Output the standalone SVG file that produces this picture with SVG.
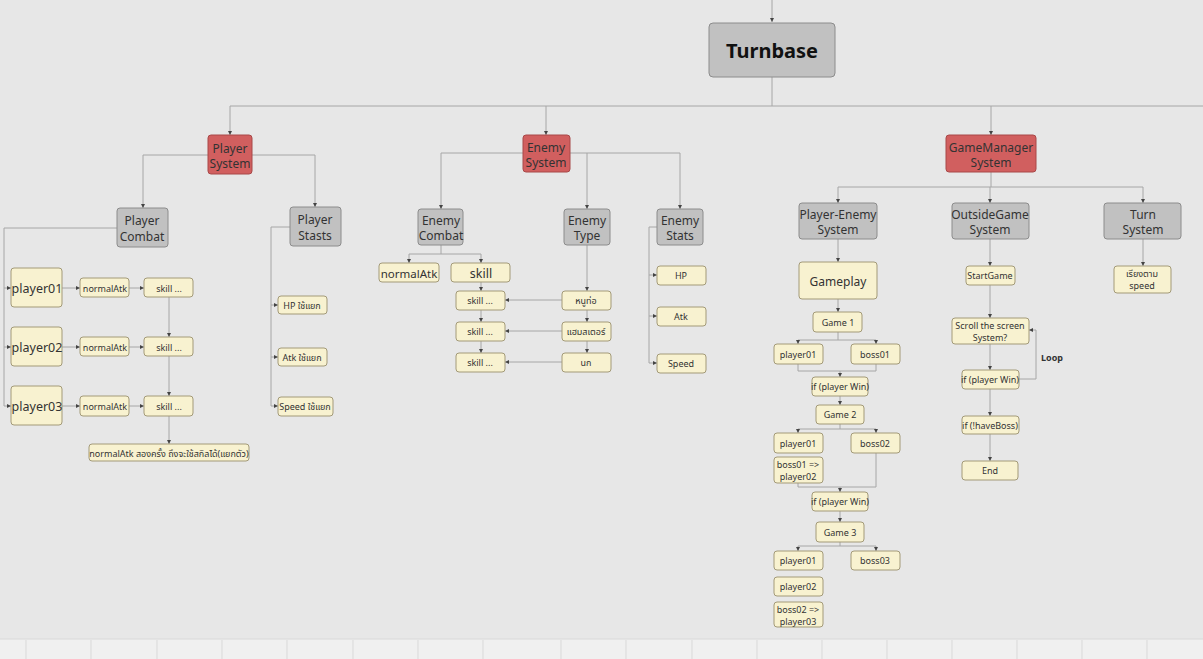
<svg xmlns="http://www.w3.org/2000/svg" width="1203" height="659" viewBox="0 0 1203 659">
<defs>
<style>
.bg{fill:#e7e7e7}
.y{fill:#f8f2d0;stroke:#a39a78;stroke-width:1}
.g{fill:#c1c1c1;stroke:#8c8c8c;stroke-width:1}
.r{fill:#d15f5f;stroke:#a84848;stroke-width:1}
.t{font-family:"Noto Sans","Open Sans","Noto Sans Thai",sans-serif;fill:#333;text-anchor:middle;dominant-baseline:central}
.s9{font-size:9px}
.s12{font-size:12px}
.s13{font-size:12.5px}
.c{fill:none;stroke:#a6a6a6;stroke-width:1}
.a{marker-end:url(#ah)}
.grid{stroke:#d9d9d9;stroke-width:1}
</style>
<marker id="ah" viewBox="0 0 6 6" refX="6" refY="3" markerWidth="4" markerHeight="4" orient="auto" markerUnits="userSpaceOnUse">
<path d="M0,0 L6,3 L0,6 z" fill="#444"/>
</marker>
</defs>
<rect class="bg" x="0" y="0" width="1203" height="659"/>
<g id="bottom-strip">
<rect x="0" y="639" width="1203" height="20" fill="#f0f0f0"/>
<line x1="0" y1="639" x2="1203" y2="639" stroke="#d8d8d8"/>
<line class="grid" x1="26" y1="640" x2="26" y2="659"/>
<line class="grid" x1="91" y1="640" x2="91" y2="659"/>
<line class="grid" x1="157" y1="640" x2="157" y2="659"/>
<line class="grid" x1="222" y1="640" x2="222" y2="659"/>
<line class="grid" x1="287" y1="640" x2="287" y2="659"/>
<line class="grid" x1="353" y1="640" x2="353" y2="659"/>
<line class="grid" x1="418" y1="640" x2="418" y2="659"/>
<line class="grid" x1="483" y1="640" x2="483" y2="659"/>
<line class="grid" x1="561" y1="640" x2="561" y2="659"/>
<line class="grid" x1="626" y1="640" x2="626" y2="659"/>
<line class="grid" x1="692" y1="640" x2="692" y2="659"/>
<line class="grid" x1="757" y1="640" x2="757" y2="659"/>
<line class="grid" x1="822" y1="640" x2="822" y2="659"/>
<line class="grid" x1="887" y1="640" x2="887" y2="659"/>
<line class="grid" x1="952" y1="640" x2="952" y2="659"/>
<line class="grid" x1="1017" y1="640" x2="1017" y2="659"/>
<line class="grid" x1="1082" y1="640" x2="1082" y2="659"/>
<line class="grid" x1="1147" y1="640" x2="1147" y2="659"/>
</g>
<g id="connectors">
<path class="c a" d="M772,0 V22"/>
<path class="c" d="M772,77 V106"/>
<path class="c" d="M230,106 H1203"/>
<path class="c a" d="M230,106 V135"/>
<path class="c a" d="M546,106 V135"/>
<path class="c a" d="M991,106 V135"/>
<path class="c a" d="M208,155 H143 V208"/>
<path class="c a" d="M252,155 H315 V207"/>
<path class="c" d="M117,228 H4 V406"/>
<path class="c a" d="M4,288 H11"/>
<path class="c a" d="M4,347 H11"/>
<path class="c a" d="M4,406 H11"/>
<path class="c a" d="M62,288 H80"/>
<path class="c a" d="M129,288 H144"/>
<path class="c a" d="M62,347 H80"/>
<path class="c a" d="M129,347 H144"/>
<path class="c a" d="M62,406 H80"/>
<path class="c a" d="M129,406 H144"/>
<path class="c a" d="M169,297 V337"/>
<path class="c a" d="M169,356 V396"/>
<path class="c a" d="M169,416 V444"/>
<path class="c" d="M290,227 H271 V406"/>
<path class="c a" d="M271,305 H278"/>
<path class="c a" d="M271,357 H278"/>
<path class="c a" d="M271,406 H278"/>
<path class="c a" d="M523,153 H441 V209"/>
<path class="c a" d="M570,153 H680 V209"/>
<path class="c a" d="M587,153 V209"/>
<path class="c" d="M441,245 V254 M409,254 H481"/>
<path class="c a" d="M409,254 V263"/>
<path class="c a" d="M481,254 V263"/>
<path class="c a" d="M481,282 V291"/>
<path class="c a" d="M481,310 V322"/>
<path class="c a" d="M481,341 V353"/>
<path class="c a" d="M587,245 V291"/>
<path class="c a" d="M587,310 V322"/>
<path class="c a" d="M587,341 V353"/>
<path class="c a" d="M562,300 H505"/>
<path class="c a" d="M562,331 H505"/>
<path class="c a" d="M562,362 H505"/>
<path class="c" d="M657,227 H649 V363"/>
<path class="c a" d="M649,275 H657"/>
<path class="c a" d="M649,316 H657"/>
<path class="c a" d="M649,363 H657"/>
<path class="c" d="M991,172 V187 M838,187 H1143"/>
<path class="c a" d="M838,187 V203"/>
<path class="c a" d="M990,187 V203"/>
<path class="c a" d="M1143,187 V203"/>
<path class="c a" d="M838,239 V262"/>
<path class="c a" d="M838,299 V312"/>
<path class="c" d="M838,332 V340 M798,340 H876"/>
<path class="c a" d="M798,340 V344"/>
<path class="c a" d="M876,340 V344"/>
<path class="c" d="M798,364 V371 H876 V364"/>
<path class="c a" d="M840,371 V377"/>
<path class="c a" d="M840,396 V405"/>
<path class="c" d="M840,424 V429 M798,429 H876"/>
<path class="c a" d="M798,429 V433"/>
<path class="c a" d="M876,429 V433"/>
<path class="c" d="M798,483 V487 H876 V453"/>
<path class="c a" d="M840,487 V492"/>
<path class="c a" d="M840,511 V522"/>
<path class="c" d="M840,542 V546 M798,546 H876"/>
<path class="c a" d="M798,546 V551"/>
<path class="c a" d="M876,546 V551"/>
<path class="c a" d="M990,239 V266"/>
<path class="c a" d="M990,285 V318"/>
<path class="c a" d="M990,344 V370"/>
<path class="c a" d="M990,389 V416"/>
<path class="c a" d="M990,434 V461"/>
<path class="c a" d="M1019,379 H1036 V330 H1029"/>
<path class="c a" d="M1143,239 V266"/>
</g>
<g id="turnbase"><rect class="g" x="709" y="23" width="126" height="54" rx="4"/><text class="t" x="772" y="50" style="font-size:20px;font-weight:bold;fill:#111">Turnbase</text></g>
<g id="player-system"><rect class="r" x="208" y="135" width="44" height="39" rx="3"/><text class="t s12" x="230" y="148">Player</text><text class="t s12" x="230" y="163">System</text></g>
<g id="enemy-system"><rect class="r" x="523" y="135" width="47" height="37" rx="3"/><text class="t s12" x="546" y="147">Enemy</text><text class="t s12" x="546" y="162">System</text></g>
<g id="gamemanager-system"><rect class="r" x="946" y="135" width="90" height="37" rx="3"/><text class="t s12" x="991" y="147">GameManager</text><text class="t s12" x="991" y="162">System</text></g>
<g id="player-combat"><rect class="g" x="117" y="208" width="51" height="39" rx="3"/><text class="t s12" x="142" y="220">Player</text><text class="t s12" x="142" y="236">Combat</text></g>
<g id="player-stasts"><rect class="g" x="290" y="207" width="51" height="39" rx="3"/><text class="t s12" x="315" y="219">Player</text><text class="t s12" x="315" y="235">Stasts</text></g>
<g id="player01"><rect class="y" x="11" y="268" width="51" height="39" rx="3"/><text class="t s13" x="37" y="288">player01</text></g>
<g id="player02"><rect class="y" x="11" y="327" width="51" height="39" rx="3"/><text class="t s13" x="37" y="347">player02</text></g>
<g id="player03"><rect class="y" x="11" y="386" width="51" height="39" rx="3"/><text class="t s13" x="37" y="406">player03</text></g>
<g id="normalatk1"><rect class="y" x="80" y="278" width="49" height="19" rx="3"/><text class="t s9" x="105" y="288">normalAtk</text></g>
<g id="normalatk2"><rect class="y" x="80" y="337" width="49" height="19" rx="3"/><text class="t s9" x="105" y="347">normalAtk</text></g>
<g id="normalatk3"><rect class="y" x="80" y="396" width="49" height="20" rx="3"/><text class="t s9" x="105" y="406">normalAtk</text></g>
<g id="skill1"><rect class="y" x="144" y="278" width="49" height="19" rx="3"/><text class="t s9" x="169" y="288">skill ...</text></g>
<g id="skill2"><rect class="y" x="144" y="337" width="49" height="19" rx="3"/><text class="t s9" x="169" y="347">skill ...</text></g>
<g id="skill3"><rect class="y" x="144" y="396" width="49" height="20" rx="3"/><text class="t s9" x="169" y="406">skill ...</text></g>
<g id="normalatk-note"><rect class="y" x="89" y="444" width="160" height="17" rx="3"/><text class="t s9" x="169" y="453">normalAtk สองครั้ง ถึงจะใช้สกิลได้(แยกตัว)</text></g>
<g id="hp-p"><rect class="y" x="278" y="296" width="49" height="18" rx="3"/><text class="t s9" x="302" y="305">HP ใช้แยก</text></g>
<g id="atk-p"><rect class="y" x="278" y="348" width="49" height="18" rx="3"/><text class="t s9" x="302" y="357">Atk ใช้แยก</text></g>
<g id="speed-p"><rect class="y" x="278" y="397" width="55" height="19" rx="3"/><text class="t s9" x="305" y="406">Speed ใช้แยก</text></g>
<g id="enemy-combat"><rect class="g" x="418" y="209" width="45" height="36" rx="3"/><text class="t s12" x="441" y="220">Enemy</text><text class="t s12" x="441" y="235">Combat</text></g>
<g id="enemy-type"><rect class="g" x="564" y="209" width="46" height="36" rx="3"/><text class="t s12" x="587" y="220">Enemy</text><text class="t s12" x="587" y="235">Type</text></g>
<g id="enemy-stats"><rect class="g" x="657" y="209" width="46" height="36" rx="3"/><text class="t s12" x="680" y="220">Enemy</text><text class="t s12" x="680" y="235">Stats</text></g>
<g id="e-normalatk"><rect class="y" x="379" y="263" width="60" height="19" rx="3"/><text class="t" x="409" y="273" style="font-size:11.5px">normalAtk</text></g>
<g id="e-skill"><rect class="y" x="451" y="263" width="59" height="19" rx="3"/><text class="t s13" x="481" y="273">skill</text></g>
<g id="e-skill1"><rect class="y" x="456" y="291" width="49" height="19" rx="3"/><text class="t s9" x="480" y="300">skill ...</text></g>
<g id="e-skill2"><rect class="y" x="456" y="322" width="49" height="19" rx="3"/><text class="t s9" x="480" y="331">skill ...</text></g>
<g id="e-skill3"><rect class="y" x="456" y="353" width="49" height="19" rx="3"/><text class="t s9" x="480" y="362">skill ...</text></g>
<g id="type-rat"><rect class="y" x="562" y="291" width="49" height="19" rx="3"/><text class="t s9" x="586" y="300">หนูท่อ</text></g>
<g id="type-hamster"><rect class="y" x="562" y="322" width="49" height="19" rx="3"/><text class="t s9" x="586" y="331">แฮมสเตอร์</text></g>
<g id="type-bird"><rect class="y" x="562" y="353" width="49" height="19" rx="3"/><text class="t s9" x="586" y="362">นก</text></g>
<g id="e-hp"><rect class="y" x="657" y="266" width="49" height="19" rx="3"/><text class="t s9" x="681" y="275">HP</text></g>
<g id="e-atk"><rect class="y" x="657" y="307" width="49" height="19" rx="3"/><text class="t s9" x="681" y="316">Atk</text></g>
<g id="e-speed"><rect class="y" x="657" y="354" width="49" height="19" rx="3"/><text class="t s9" x="681" y="363">Speed</text></g>
<g id="player-enemy-system"><rect class="g" x="799" y="203" width="78" height="36" rx="3"/><text class="t s12" x="838" y="214">Player-Enemy</text><text class="t s12" x="838" y="229">System</text></g>
<g id="outsidegame-system"><rect class="g" x="952" y="203" width="77" height="36" rx="3"/><text class="t s12" x="990" y="214">OutsideGame</text><text class="t s12" x="990" y="229">System</text></g>
<g id="turn-system"><rect class="g" x="1104" y="203" width="77" height="36" rx="3"/><text class="t s12" x="1143" y="214">Turn</text><text class="t s12" x="1143" y="229">System</text></g>
<g id="gameplay"><rect class="y" x="799" y="262" width="78" height="37" rx="3"/><text class="t s12" x="838" y="281">Gameplay</text></g>
<g id="game1"><rect class="y" x="813" y="312" width="49" height="20" rx="3"/><text class="t s9" x="838" y="322">Game 1</text></g>
<g id="g1-player01"><rect class="y" x="774" y="344" width="49" height="20" rx="3"/><text class="t s9" x="798" y="354">player01</text></g>
<g id="g1-boss01"><rect class="y" x="851" y="344" width="49" height="20" rx="3"/><text class="t s9" x="875" y="354">boss01</text></g>
<g id="if-win1"><rect class="y" x="812" y="377" width="56" height="19" rx="3"/><text class="t s9" x="840" y="386">if (player Win)</text></g>
<g id="game2"><rect class="y" x="816" y="405" width="48" height="19" rx="3"/><text class="t s9" x="840" y="414">Game 2</text></g>
<g id="g2-player01"><rect class="y" x="774" y="433" width="49" height="20" rx="3"/><text class="t s9" x="798" y="443">player01</text></g>
<g id="g2-boss02"><rect class="y" x="851" y="433" width="49" height="20" rx="3"/><text class="t s9" x="875" y="443">boss02</text></g>
<g id="boss01-player02"><rect class="y" x="774" y="457" width="49" height="26" rx="3"/><text class="t s9" x="798" y="464">boss01 =&gt;</text><text class="t s9" x="798" y="476">player02</text></g>
<g id="if-win2"><rect class="y" x="812" y="492" width="56" height="19" rx="3"/><text class="t s9" x="840" y="501">if (player Win)</text></g>
<g id="game3"><rect class="y" x="816" y="522" width="48" height="20" rx="3"/><text class="t s9" x="840" y="532">Game 3</text></g>
<g id="g3-player01"><rect class="y" x="774" y="551" width="49" height="19" rx="3"/><text class="t s9" x="798" y="560">player01</text></g>
<g id="g3-boss03"><rect class="y" x="851" y="551" width="49" height="19" rx="3"/><text class="t s9" x="875" y="560">boss03</text></g>
<g id="g3-player02"><rect class="y" x="774" y="577" width="49" height="19" rx="3"/><text class="t s9" x="798" y="586">player02</text></g>
<g id="boss02-player03"><rect class="y" x="774" y="602" width="49" height="25" rx="3"/><text class="t s9" x="798" y="609">boss02 =&gt;</text><text class="t s9" x="798" y="621">player03</text></g>
<g id="startgame"><rect class="y" x="966" y="266" width="49" height="19" rx="3"/><text class="t s9" x="990" y="275">StartGame</text></g>
<g id="scroll"><rect class="y" x="952" y="318" width="77" height="26" rx="3"/><text class="t s9" x="990" y="325">Scroll the screen</text><text class="t s9" x="990" y="337">System?</text></g>
<g id="if-win-o"><rect class="y" x="962" y="370" width="57" height="19" rx="3"/><text class="t s9" x="990" y="379">if (player Win)</text></g>
<g id="if-haveboss"><rect class="y" x="962" y="416" width="57" height="18" rx="3"/><text class="t s9" x="990" y="425">if (!haveBoss)</text></g>
<g id="end"><rect class="y" x="962" y="461" width="56" height="19" rx="3"/><text class="t s9" x="990" y="470">End</text></g>
<g id="loop-label"><text class="t s9" x="1052" y="357" style="font-weight:bold">Loop</text></g>
<g id="speed-order"><rect class="y" x="1114" y="266" width="57" height="27" rx="3"/><text class="t s9" x="1142" y="273">เรียงตาม</text><text class="t s9" x="1142" y="285">speed</text></g>
</svg>
